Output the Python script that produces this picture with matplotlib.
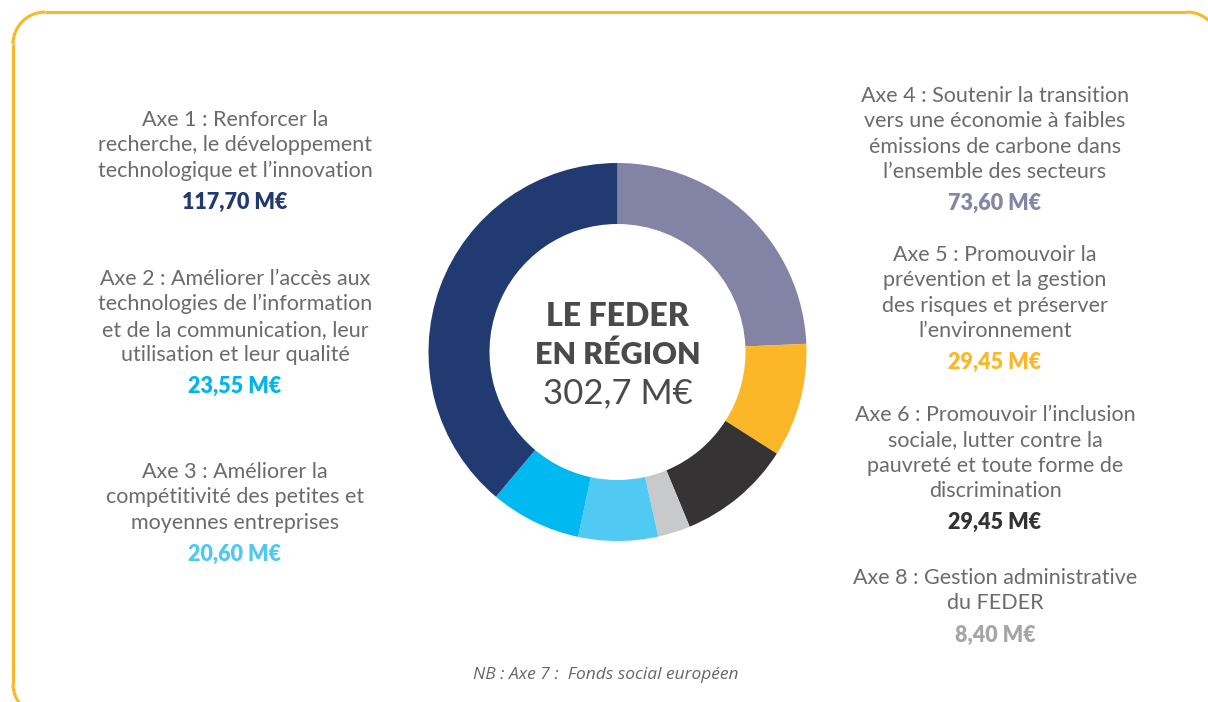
import matplotlib.pyplot as plt
from matplotlib.patches import Arc

# données (M€)
axes_names = ['Axe 1', 'Axe 2', 'Axe 3', 'Axe 4', 'Axe 5', 'Axe 6', 'Axe 8']
values = [117.70, 23.55, 20.60, 73.60, 29.45, 29.45, 8.40]
value_labels = ['117,70 M€', '23,55 M€', '20,60 M€', '73,60 M€', '29,45 M€', '29,45 M€', '8,40 M€']
slice_colors = ['#213B72', '#00B9F0', '#50C9F3', '#8383A6', '#FBB727', '#353334', '#C8C9CB']
value_colors = ['#213B72', '#00B5EC', '#4FC8F2', '#8585A8', '#FBB726', '#333333', '#A6A6A6']
descriptions = [
    ['Axe 1 : Renforcer la', 'recherche, le développement', 'technologique et l’innovation'],
    ['Axe 2 : Améliorer l’accès aux', 'technologies de l’information',
     'et de la communication, leur', 'utilisation et leur qualité'],
    ['Axe 3 : Améliorer la', 'compétitivité des petites et', 'moyennes entreprises'],
    ['Axe 4 : Soutenir la transition', 'vers une économie à faibles',
     'émissions de carbone dans', 'l’ensemble des secteurs'],
    ['Axe 5 : Promouvoir la', 'prévention et la gestion',
     'des risques et préserver', 'l’environnement'],
    ['Axe 6 : Promouvoir l’inclusion', 'sociale, lutter contre la',
     'pauvreté et toute forme de', 'discrimination'],
    ['Axe 8 : Gestion administrative', 'du FEDER'],
]
pie_order = [3, 4, 5, 6, 2, 1, 0]  # sens horaire depuis midi
total_label = '302,7 M€'

W, H = 1208, 702
plt.rcParams['font.family'] = ['Lato', 'DejaVu Sans']

fig = plt.figure(figsize=(W / 100, H / 100), dpi=100)
ax = fig.add_axes([0, 0, 1, 1])

def Y(y):
    return H - y

# cadre arrondi jaune (coins en arcs)
x0, x1, y0, y1, r = 13, 1219, 12, 716, 32
frame_kw = dict(color='#FBB727', lw=2.2, solid_capstyle='butt')
ax.plot([x0 + r, x1 - r], [Y(y0), Y(y0)], **frame_kw)
ax.plot([x0 + r, x1 - r], [Y(y1), Y(y1)], **frame_kw)
ax.plot([x0, x0], [Y(y0 + r), Y(y1 - r)], **frame_kw)
ax.plot([x1, x1], [Y(y0 + r), Y(y1 - r)], **frame_kw)
for cx, cy, t1 in [(x0 + r, y0 + r, 90), (x1 - r, y0 + r, 0),
                   (x0 + r, y1 - r, 180), (x1 - r, y1 - r, 270)]:
    ax.add_patch(Arc((cx, Y(cy)), 2 * r, 2 * r, theta1=t1, theta2=t1 + 90,
                     color='#FBB727', lw=2.2))

# anneau
ax.pie([values[i] for i in pie_order], colors=[slice_colors[i] for i in pie_order],
       startangle=90, counterclock=False, center=(617.5, Y(352)), radius=189,
       wedgeprops=dict(width=61, edgecolor='none'))

# texte central
ax.text(617.5, Y(316), 'LE FEDER', ha='center', va='center', fontsize=23,
        fontweight='heavy', color='#4a4a4a')
ax.text(617.5, Y(355), 'EN RÉGION', ha='center', va='center', fontsize=22,
        fontweight='heavy', color='#4a4a4a')
ax.text(617.5, Y(393), total_label, ha='center', va='center', fontsize=25, color='#4a4a4a')

# étiquettes
label_x = [235, 235, 235, 995, 995, 995, 995]
label_y = [120, 279, 472, 96, 255, 415, 578]
step = 25.3
for i in range(len(values)):
    for k, line in enumerate(descriptions[i]):
        ax.text(label_x[i], Y(label_y[i] + k * step), line, ha='center', va='center',
                fontsize=15.5, color='#6b6b6b')
    yv = label_y[i] + (len(descriptions[i]) - 1) * step + 32
    ax.text(label_x[i], Y(yv), value_labels[i], ha='center', va='center',
            fontsize=15.5, fontweight='heavy', color=value_colors[i])

ax.text(606, Y(675), 'NB : Axe 7 :  Fonds social européen', ha='center', va='center',
        fontsize=12.5, style='italic', color='#666666', family=['Open Sans', 'DejaVu Sans'])

ax.set_xlim(0, W)
ax.set_ylim(0, H)
ax.set_aspect('equal')
ax.axis('off')

plt.savefig('out.png', dpi=100)
